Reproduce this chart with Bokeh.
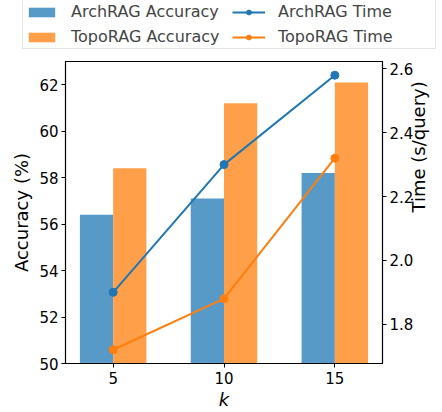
import math
from bokeh.plotting import figure
from bokeh.layouts import column
from bokeh.models import (Range1d, LinearAxis, Legend, LegendItem, FixedTicker,
                          ColumnDataSource, NumeralTickFormatter)
from bokeh.transform import dodge
from bokeh.embed import file_html
from bokeh.resources import INLINE

k_values = [5, 10, 15]
arch_acc = [56.4, 57.1, 58.2]
topo_acc = [58.4, 61.2, 62.1]
arch_time = [1.90, 2.30, 2.58]
topo_time = [1.72, 1.88, 2.32]
acc_ticks = [50, 52, 54, 56, 58, 60, 62]
time_ticks = [1.8, 2.0, 2.2, 2.4, 2.6]
series_labels = ["ArchRAG Accuracy", "TopoRAG Accuracy", "ArchRAG Time", "TopoRAG Time"]

BAR_BLUE = "#5799c7"
BAR_ORANGE = "#ff9f4a"
LINE_BLUE = "#1f77b4"
LINE_ORANGE = "#ff7f0e"
FONT = "DejaVu Sans"

src = ColumnDataSource(dict(k=k_values, arch_acc=arch_acc, topo_acc=topo_acc,
                            arch_time=arch_time, topo_time=topo_time))


def add_series(fig):
    b1 = fig.vbar(x=dodge("k", -0.75, range=fig.x_range), top="arch_acc", bottom=50, width=1.5,
                  source=src, fill_color=BAR_BLUE, line_color=None)
    b2 = fig.vbar(x=dodge("k", 0.75, range=fig.x_range), top="topo_acc", bottom=50, width=1.5,
                  source=src, fill_color=BAR_ORANGE, line_color=None)
    l1 = fig.line("k", "arch_time", source=src, y_range_name="time", line_color=LINE_BLUE, line_width=2)
    s1 = fig.scatter("k", "arch_time", source=src, y_range_name="time", size=8,
                     fill_color=LINE_BLUE, line_color=LINE_BLUE)
    l2 = fig.line("k", "topo_time", source=src, y_range_name="time", line_color=LINE_ORANGE, line_width=2)
    s2 = fig.scatter("k", "topo_time", source=src, y_range_name="time", size=8,
                     fill_color=LINE_ORANGE, line_color=LINE_ORANGE)
    return [[b1], [b2], [l1, s1], [l2, s2]]


# ---------------- main chart ----------------
p = figure(width=442, height=359, output_backend="svg", toolbar_location=None,
           x_range=Range1d(2.85, 17.15), y_range=Range1d(50, 63),
           min_border_left=65, min_border_right=59, min_border_top=8,
           min_border_bottom=48)
p.extra_y_ranges = {"time": Range1d(1.677, 2.623)}
p.grid.visible = False
p.outline_line_color = "black"
p.outline_line_width = 1.2
p.background_fill_color = "white"
p.border_fill_color = "white"
add_series(p)


def style_axis(ax):
    ax.major_label_text_font = FONT
    ax.major_label_text_font_size = "15px"
    ax.major_label_text_color = "black"
    ax.axis_label_text_font = FONT
    ax.axis_label_text_font_size = "18px"
    ax.axis_label_text_font_style = "normal"
    ax.axis_label_text_color = "black"
    ax.minor_tick_line_color = None
    ax.major_tick_out = 4
    ax.major_tick_in = 0
    ax.major_tick_line_color = "black"
    ax.axis_line_color = "black"
    ax.major_label_standoff = 3
    ax.axis_label_standoff = 4


xa = p.xaxis[0]
xa.ticker = FixedTicker(ticks=k_values)
xa.axis_label = "k"
style_axis(xa)
xa.axis_label_text_font_style = "italic"
xa.major_label_standoff = 4
xa.axis_label_standoff = 2

ya = p.yaxis[0]
ya.ticker = FixedTicker(ticks=acc_ticks)
ya.axis_label = "Accuracy (%)"
style_axis(ya)

ra = LinearAxis(y_range_name="time", axis_label="Time (s/query)",
                ticker=FixedTicker(ticks=time_ticks))
style_axis(ra)
ra.formatter = NumeralTickFormatter(format="0.0")
ra.axis_label_orientation = math.pi / 2
ra.axis_label_standoff = 2
p.add_layout(ra, "right")

# ---------------- legend strip (same series, scrolled out of its view) ----------------
lf = figure(width=442, height=53, output_backend="svg", toolbar_location=None,
            x_range=Range1d(100, 101), y_range=Range1d(100, 101),
            x_axis_type=None, y_axis_type=None, min_border=0)
lf.extra_y_ranges = {"time": Range1d(100, 101)}
lf.grid.visible = False
lf.outline_line_color = None
lf.border_fill_color = "white"
lf.background_fill_color = "white"
for fig in (lf, p):
    try:
        fig.frame_align = False
    except Exception:
        pass
proxies = add_series(lf)

legend = Legend(items=[LegendItem(label=lab, renderers=rs)
                       for lab, rs in zip(series_labels, proxies)],
                ncols=2, location=(22, 4))
legend.label_text_font = FONT
legend.label_text_font_size = "16px"
legend.label_height = 17
legend.label_width = 155
legend.glyph_height = 12
legend.glyph_width = 33
legend.label_standoff = 13
legend.spacing = 6
legend.padding = 2
legend.margin = 0
legend.border_line_color = "#cccccc"
legend.border_line_width = 1
legend.background_fill_alpha = 0.8
lf.add_layout(legend, "center")

layout = column(lf, p, spacing=0)
open("out.html", "w").write(file_html(layout, INLINE))
